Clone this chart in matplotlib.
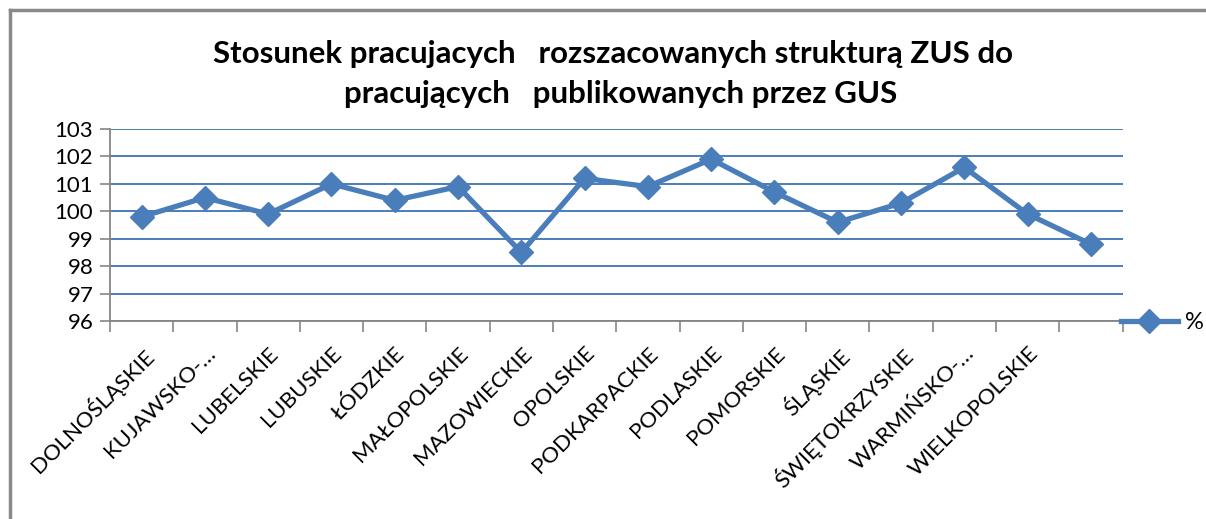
import numpy as np

import matplotlib
matplotlib.use('agg')

from matplotlib import pyplot as plt
from matplotlib.lines import Line2D

plt.rcParams['font.family'] = ['Lato', 'DejaVu Sans']

regions = ["DOLNOŚLĄSKIE", "KUJAWSKO-…", "LUBELSKIE", "LUBUSKIE", "ŁÓDZKIE",
           "MAŁOPOLSKIE", "MAZOWIECKIE", "OPOLSKIE", "PODKARPACKIE", "PODLASKIE",
           "POMORSKIE", "ŚLĄSKIE", "ŚWIĘTOKRZYSKIE", "WARMIŃSKO-…", "WIELKOPOLSKIE", ""]
values = [99.8, 100.5, 99.9, 101.0, 100.4, 100.9, 98.5, 101.2,
          100.9, 101.9, 100.7, 99.6, 100.3, 101.6, 99.9, 98.8]
y_ticks = [96, 97, 98, 99, 100, 101, 102, 103]

blue = "#4A7EBB"
grey = "#868686"

fig = plt.figure(figsize=(12.06, 5.19), dpi=100)
ax = fig.add_axes([0.0912, 0.3815, 0.8396, 0.3699])

x = np.arange(len(values))
ax.plot(x, values, color=blue, linewidth=3.8, marker="D", markersize=12,
        markeredgecolor=blue, markerfacecolor=blue, label="%", zorder=3)

ax.set_xlim(-0.5, len(values) - 0.5)
ax.set_ylim(96, 103)
ax.set_yticks(y_ticks)
ax.yaxis.grid(True, color=blue, linewidth=1.4)
ax.set_axisbelow(True)

ax.set_xticks(x)
ax.set_xticklabels(regions, rotation=45, ha="right", rotation_mode="anchor")
ax.set_xticks(np.arange(-0.5, len(values)), minor=True)
ax.tick_params(axis="x", which="major", length=0, pad=16, labelsize=16)
ax.tick_params(axis="x", which="minor", length=8, width=1.2, color=grey)
ax.tick_params(axis="y", length=7, width=1.2, color=grey, labelsize=16, pad=5)

for side in ["top", "right"]:
    ax.spines[side].set_visible(False)
for side in ["left", "bottom"]:
    ax.spines[side].set_color(grey)
    ax.spines[side].set_linewidth(1.3)

fig.text(0.508, 0.895, "Stosunek pracujacych   rozszacowanych strukturą ZUS do",
         ha="center", va="center", fontsize=22.5, fontweight="bold")
fig.text(0.515, 0.818, "pracujących   publikowanych przez GUS",
         ha="center", va="center", fontsize=22.5, fontweight="bold")

handle = Line2D([], [], color=blue, linewidth=3.8, marker="D", markersize=12)
fig.legend([handle], ["%"], loc="center left", bbox_to_anchor=(0.912, 0.378),
           frameon=False, fontsize=17, handlelength=2.4, handletextpad=0.3)

# outer chart frame (only top and left visible in the crop)
fig.add_artist(Line2D([0.0083, 1.0], [0.98, 0.98], color="#898989", linewidth=2.5))
fig.add_artist(Line2D([0.0083, 0.0083], [0.0, 0.98], color="#898989", linewidth=2.5))

plt.savefig("out.png", dpi=100)
